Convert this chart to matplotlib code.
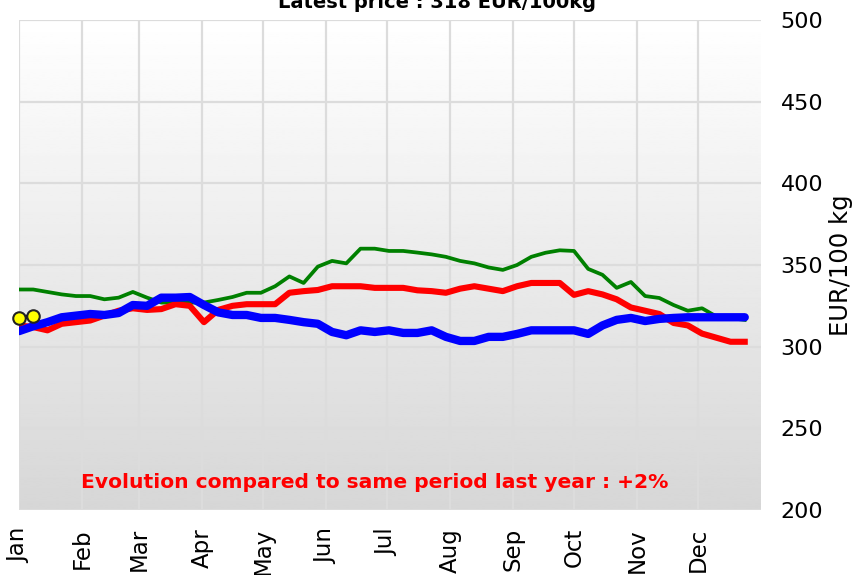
import numpy as np
import matplotlib.pyplot as plt

# weekly prices, EUR/100 kg
weeks = np.arange(52)
days = weeks * 7

green_prices = [335, 335, 333.5, 332, 331, 331, 329, 330, 333.5, 330,
                327, 327, 327, 327, 328.6, 330.4, 333, 333, 337, 343,
                339, 349, 352.5, 351, 360, 360, 358.6, 358.6, 357.6, 356.5,
                355, 352.5, 351, 348.5, 347, 350, 355, 357.5, 359, 358.6,
                347.6, 344, 336, 339.6, 331, 329.8, 325.5, 322, 323.5, 318.5,
                317.5, 316.4]

red_prices = [313, 312, 310, 314, 315, 316, 319, 322, 323.5, 322.5,
              323, 326, 325, 315, 322.5, 325, 326, 326, 326, 333,
              334, 334.7, 337, 337, 337, 336, 336, 336, 334.5, 334,
              333, 335.5, 337, 335.5, 334, 337, 339, 339, 339, 331.7,
              334, 332, 329, 324, 322, 320, 314.5, 313, 308, 305.5,
              303, 303]

blue_prices = [309.5, 312.5, 315, 318, 319, 320, 319.4, 320.6, 325.5, 325,
               330, 330, 330.4, 325.5, 321, 319.4, 319.4, 317.6, 317.6, 316.4,
               315, 314, 309, 307, 310, 309, 310, 308.4, 308.4, 310,
               306, 303.5, 303.5, 306, 306, 307.8, 310, 310, 310, 310,
               307.8, 313, 316.4, 317.6, 315.7, 317, 317.6, 318, 318, 318,
               318, 318]

current_days = [0, 7]
current_prices = [317.8, 318.6]

month_starts = [0, 31, 59, 90, 120, 151, 181, 212, 243, 273, 304, 334]
month_labels = ["Jan", "Feb", "Mar", "Apr", "May", "Jun",
                "Jul", "Aug", "Sep", "Oct", "Nov", "Dec"]
y_ticks = [200, 250, 300, 350, 400, 450, 500]

fig = plt.figure(figsize=(8.6, 5.75), dpi=100)
ax = fig.add_axes([19 / 860, 65 / 575, 742 / 860, 490 / 575])

# grey gradient background
grad = np.linspace(1.0, 0.0, 256).reshape(-1, 1)
ax.imshow(grad, extent=[0, 1, 0, 1], transform=ax.transAxes, aspect="auto",
          cmap="gray", vmin=-5.3, vmax=1.0, zorder=0)

ax.plot(days, green_prices, color="#008000", lw=2.7, zorder=3)
ax.plot(days, red_prices, color="#ff0000", lw=4.4, zorder=4)
ax.plot(days, blue_prices, color="#0000ff", lw=6, zorder=5,
        solid_capstyle="round")
ax.plot(current_days, current_prices, color="black", lw=3, zorder=6,
        marker="o", markersize=9, markerfacecolor="#ffff00",
        markeredgecolor="#222222", markeredgewidth=1.5, clip_on=False)

ax.set_xlim(0, 365)
ax.set_ylim(200, 500)

ax.set_xticks(month_starts)
ax.set_xticklabels(month_labels, rotation=90, fontsize=16.5, va="top",
                   ha="center")
ax.set_yticks(y_ticks)
ax.yaxis.tick_right()
ax.yaxis.set_label_position("right")
ax.tick_params(axis="y", length=0, pad=14, labelsize=16)
ax.tick_params(axis="x", length=0, pad=13)
ax.set_ylabel("EUR/100 kg", fontsize=17.5, labelpad=4)

ax.grid(True, color="#dcdcdc", lw=1.6)
for gl in ax.get_xgridlines() + ax.get_ygridlines():
    gl.set_zorder(1)
for s in ax.spines.values():
    s.set_visible(False)

ax.text(0.48, 0.057, "Evolution compared to same period last year : +2%",
        transform=ax.transAxes, color="#ff0000", fontsize=14.6,
        fontweight="bold", ha="center", va="center", zorder=7)

fig.text(437 / 860, 1 - 8 / 575, "Latest price : 318 EUR/100kg",
         fontsize=14, fontweight="bold", ha="center", va="baseline")

fig.savefig("out.png", dpi=100)
